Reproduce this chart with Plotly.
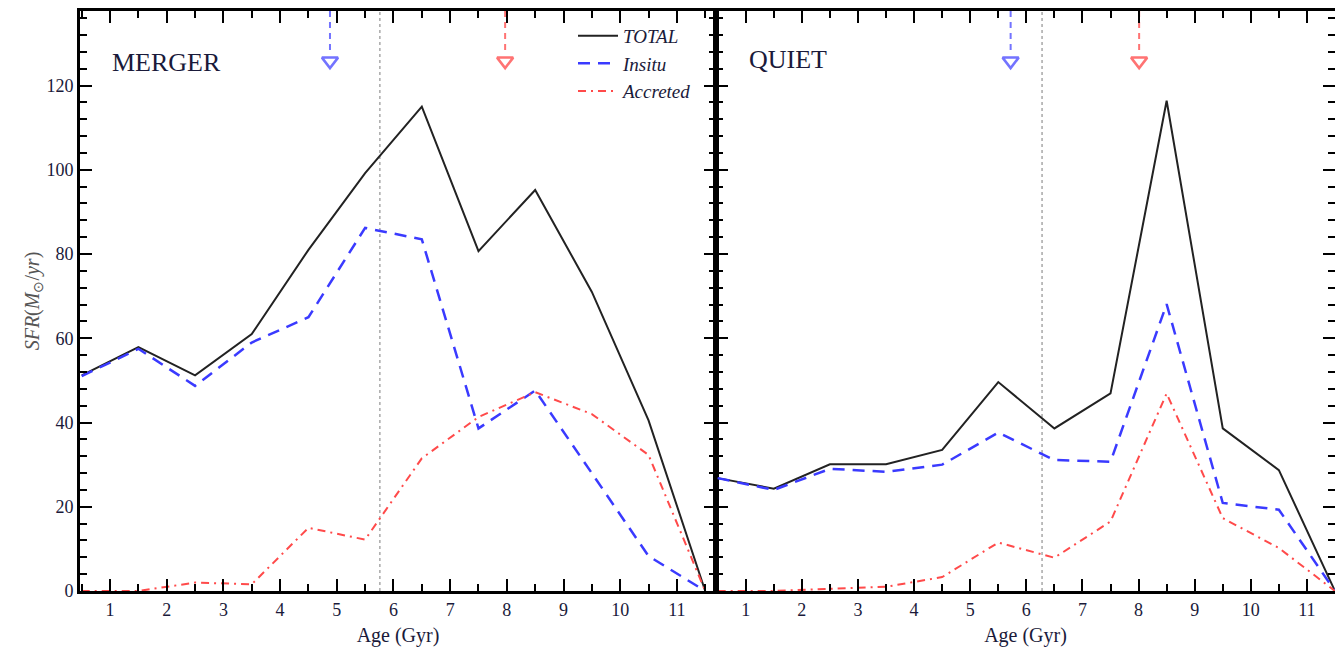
import plotly.graph_objects as go

# ---- data ----
age = [0.5, 1.5, 2.5, 3.5, 4.5, 5.5, 6.5, 7.5, 8.5, 9.5, 10.5, 11.5]

merger_total = [51.2, 57.9, 51.2, 61.0, 81.0, 99.2, 115.0, 80.7, 95.2, 71.0, 40.5, 0.0]
merger_insitu = [51.0, 57.5, 48.7, 59.0, 65.0, 86.2, 83.5, 38.6, 47.6, 28.0, 8.3, 0.0]
merger_accreted = [0.0, 0.0, 2.0, 1.6, 15.0, 12.2, 31.5, 41.3, 47.2, 42.0, 32.3, 0.0]

quiet_total = [26.8, 24.3, 30.1, 30.1, 33.5, 49.6, 38.6, 46.9, 116.4, 38.6, 28.7, 0.0]
quiet_insitu = [26.8, 24.0, 29.0, 28.3, 30.0, 37.6, 31.1, 30.7, 68.1, 20.9, 19.3, 0.0]
quiet_accreted = [0.0, 0.0, 0.5, 1.0, 3.3, 11.5, 7.9, 16.5, 46.9, 17.3, 10.2, 0.0]

merger_vline = 5.76
quiet_vline = 6.28
merger_arrows = [4.88, 7.97]
quiet_arrows = [5.72, 8.01]
arrow_colors = ["#7373ff", "#ff7373"]

series_names = ["<i>TOTAL</i>", "<i>Insitu</i>", "<i>Accreted</i>"]
x_ticks = [1, 2, 3, 4, 5, 6, 7, 8, 9, 10, 11]
y_ticks = [0, 20, 40, 60, 80, 100, 120]

YMAX = 137.7
FONT = "Liberation Serif"
TXT = "#1a1a3a"

styles = [
    dict(color="#222222", width=2, dash="solid"),
    dict(color="#3a3aff", width=2.5, dash="12px,8px"),
    dict(color="#ff4a4a", width=2, dash="8px,5px,2px,5px"),
]

fig = go.Figure()

panels = [
    ("x", "y", [merger_total, merger_insitu, merger_accreted], merger_vline, merger_arrows, True),
    ("x2", "y2", [quiet_total, quiet_insitu, quiet_accreted], quiet_vline, quiet_arrows, False),
]

for xa, ya, data, vline, arrows, show in panels:
    # dotted vertical line
    fig.add_trace(go.Scatter(x=[vline, vline], y=[0, YMAX], mode="lines",
                             line=dict(color="#a8a8a8", width=1.5, dash="dot"),
                             xaxis=xa, yaxis=ya, showlegend=False, hoverinfo="skip"))
    for name, vals, st in zip(series_names, data, styles):
        fig.add_trace(go.Scatter(x=age, y=vals, mode="lines", name=name, line=st,
                                 xaxis=xa, yaxis=ya, showlegend=show))
    for ax_, col in zip(arrows, arrow_colors):
        fig.add_trace(go.Scatter(x=[ax_, ax_], y=[YMAX, 127.5], mode="lines",
                                 line=dict(color=col, width=2, dash="6px,5px"),
                                 xaxis=xa, yaxis=ya, showlegend=False, hoverinfo="skip"))
        fig.add_trace(go.Scatter(x=[ax_], y=[125.8], mode="markers",
                                 marker=dict(symbol="triangle-down-open", size=14,
                                             color=col, line=dict(width=2.5, color=col)),
                                 xaxis=xa, yaxis=ya, showlegend=False, hoverinfo="skip"))

W = 1327
L = 72
PW = W - L
split = 636 / PW

xcommon = dict(
    tickmode="array", tickvals=x_ticks, ticks="inside", ticklen=12, tickwidth=2,
    tickcolor="black", showline=True, linecolor="black", linewidth=3, mirror="allticks",
    showgrid=False, zeroline=False, automargin=True,
    minor=dict(dtick=0.5, tick0=0.5, ticklen=7, tickwidth=1.5, tickcolor="black", ticks="inside"),
    tickfont=dict(family=FONT, size=18, color=TXT),
    title=dict(text="Age (Gyr)", font=dict(family=FONT, size=20, color=TXT), standoff=11),
)
ycommon = dict(
    range=[0, YMAX], tickmode="array", tickvals=y_ticks, ticks="inside", ticklen=12, tickwidth=2,
    tickcolor="black", showline=True, linecolor="black", linewidth=3, mirror="allticks",
    showgrid=False, zeroline=False, automargin=False,
    minor=dict(dtick=4, tick0=0, ticklen=7, tickwidth=1.5, tickcolor="black", ticks="inside"),
    tickfont=dict(family=FONT, size=18, color=TXT),
)

fig.update_layout(
    width=W, height=639,
    margin=dict(l=L, r=0, t=0, b=56),
    paper_bgcolor="white", plot_bgcolor="white",
    xaxis=dict(domain=[0, split], range=[0.47, 11.69], anchor="y", **xcommon),
    xaxis2=dict(domain=[split, 1], range=[0.47, 11.5], anchor="y2", **xcommon),
    yaxis=dict(domain=[0, 1], anchor="x",
               title=dict(text="<i>SFR</i>(<i>M</i><sub>⊙</sub>/<i>yr</i>)",
                          font=dict(family=FONT, size=20, color="#555"), standoff=2),
               **ycommon),
    yaxis2=dict(domain=[0, 1], anchor="x2", matches="y", showticklabels=False, **ycommon),
    legend=dict(x=(613 - 40 - 80) / PW, y=0.99, xanchor="left", yanchor="top",
                font=dict(family=FONT, size=19, color=TXT),
                bgcolor="rgba(0,0,0,0)", tracegroupgap=0, itemwidth=40),
    showlegend=True,
    annotations=[
        dict(text="MERGER", x=(110 - 80) / PW, y=0.911, xref="paper", yref="paper",
             xanchor="left", yanchor="middle", showarrow=False,
             font=dict(family=FONT, size=26, color=TXT)),
        dict(text="QUIET", x=(747 - 80) / PW, y=0.916, xref="paper", yref="paper",
             xanchor="left", yanchor="middle", showarrow=False,
             font=dict(family=FONT, size=26, color=TXT)),
    ],
)

fig.write_html("out.html")
